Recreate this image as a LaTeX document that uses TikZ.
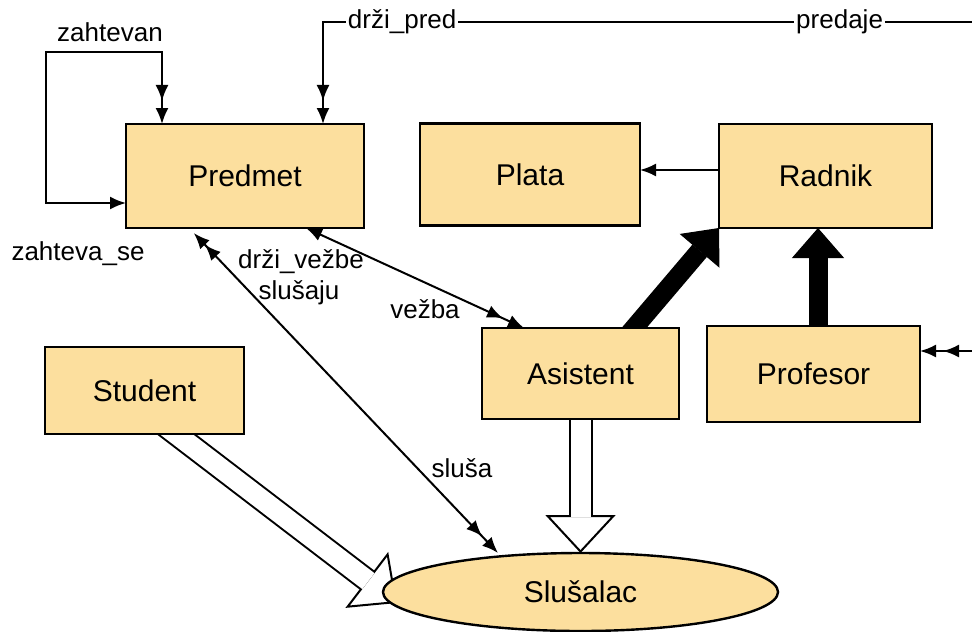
\documentclass[tikz,border=0pt]{standalone}
\usepackage{fontspec}
\setmainfont{Liberation Sans}
\usepackage{tikz}
\usetikzlibrary{arrows.meta}
\usetikzlibrary{calc}
\usetikzlibrary{backgrounds}
\usetikzlibrary{shapes.geometric}
\definecolor{boxfill}{RGB}{252,223,158}

% hollow (white) arrow between two points
\newcommand{\hollowarrow}[2]{%
  \draw[line width=12pt, shorten >=18pt] (#1) -- (#2);
  \draw[line width=1pt, -{Triangle[length=19pt,width=35pt,fill=white]}] (#1) -- (#2);
  \draw[white, line width=10pt, shorten >=18pt] (#1) -- (#2);
}

\begin{document}
\begin{tikzpicture}[x=0.5pt, y=-0.5pt,
		entity/.style={draw, line width=1.2pt, fill=boxfill, inner sep=0pt, outer sep=0pt,
			font=\fontsize{15}{18}\selectfont},
		lbl/.style={font=\fontsize{13}{15}\selectfont, inner sep=1pt},
		link/.style={line width=1pt},
		hd/.tip={Latex[length=8pt,width=6.5pt]},
		hds/.tip={Latex[length=8pt,width=6.5pt,sep=3.5pt]},
		fat/.style={line width=9.5pt, -{Triangle[length=15pt,width=26pt,line width=0.5pt]}}]
		\useasboundingbox (0,0) rectangle (972,631);
		
		% draw entities
		\node[entity, minimum width=119pt, minimum height=52pt] (predmet) at (245,176) {Predmet};
		\node[entity, minimum width=110pt, minimum height=51pt] (plata) at (530,174.5) {Plata};
		\node[entity, minimum width=106.5pt, minimum height=52pt] (radnik) at (825.5,176) {Radnik};
		\node[entity, minimum width=98.5pt, minimum height=45.5pt] (asistent) at (580.5,373.5) {Asistent};
		\node[entity, minimum width=106.5pt, minimum height=48pt] (profesor) at (813.5,374) {Profesor};
		\node[entity, minimum width=99.5pt, minimum height=43.5pt] (student) at (144.5,390.5) {Student};
		\node[entity, ellipse, minimum width=197.5pt, minimum height=39pt] (slusalac) at (580.5,592) {Slušalac};
		
		% free ends at the right edge
		\coordinate (rubA) at (972,22);
		\coordinate (rubB) at (972,351);
		\coordinate (stutip) at ([shift={(14,11)}]slusalac.west);
		
		\begin{pgfonlayer}{background}
		% draw relationships
		\draw[link, {hd[]}-{hds[]hd[]}] (predmet.west |- 0,203) -| (46,52) -| (predmet.north -| 162,0);
		\draw[link, -{hds[]hd[]}] (rubA) -| (predmet.north -| 323,0)
			node[lbl, fill=white, pos=0.102] (predaje) {predaje}
			node[lbl, fill=white, pos=0.439] (drzipred) {drži\_pred};
		\draw[link, -{hds[]hd[]}] (rubB) -- (profesor.east |- rubB);
		\draw[link, -{Latex[length=8pt,width=6.5pt]}] (radnik.west |- 0,170) -- (plata.east |- 0,170);
		\draw[link, {hd[]}-{hds[]hd[]}] (predmet.south -| 306,0) -- (asistent.north -| 524,0);
		\draw[link, {hds[]hd[]}-{hds[]hd[]}] (predmet.south -| 189,0) -- (slusalac.north -| 498,0);
		
		% draw generalisations
		\draw[fat] ($(asistent.north -| 634,0)!-8pt!(radnik.south west)$) -- (radnik.south west);
		\draw[fat] (profesor.center -| 818,0) -- (radnik.south -| 818,0);
		\hollowarrow{asistent.center}{asistent.center |- slusalac.north}
		\hollowarrow{$(student.south -| 176,0)!-14pt!(stutip)$}{stutip}
		\end{pgfonlayer}
		
		% draw labels
		\node[lbl] (zahtevan) at (110,32) {zahtevan};
		\node[lbl] (zahtevase) at (78,254) {zahteva\_se};
		\node[lbl] (drzivezbe) at (301,262) {drži\_vežbe};
		\node[lbl] (slusaju) at (299,293) {slušaju};
		\node[lbl] (vezba) at (425,309) {vežba};
		\node[lbl] (slusa) at (462,468) {sluša};
		
\end{tikzpicture}
\end{document}
